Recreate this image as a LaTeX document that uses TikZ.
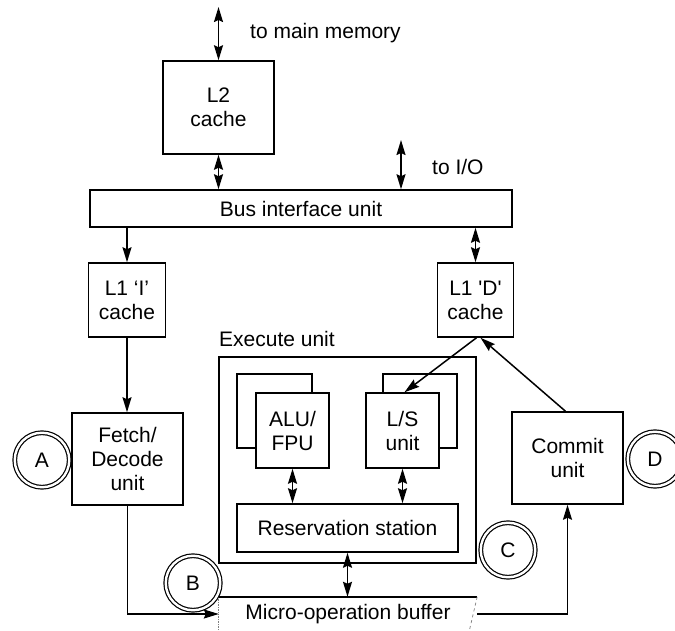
\documentclass[tikz,border=0pt]{standalone}
\usepackage{fontspec}
\setmainfont{Liberation Sans}
\usetikzlibrary{arrows.meta}
\newcommand\diagfont{\fontsize{21}{24}\selectfont}
\tikzset{
  unitbox/.style={draw, line width=1.5pt, fill=white, align=center,
                  inner sep=0pt, font=\diagfont},
  backbox/.style={draw, line width=1.5pt, fill=white, inner sep=0pt},
  label/.style={inner sep=0pt, font=\diagfont},
  tag/.style={circle, draw, line width=1.2pt, double=white,
              double distance=2.4pt, minimum size=54.5pt, inner sep=0pt,
              font=\diagfont},
  arr/.style={line width=1.5pt, -{Stealth[length=15pt,width=9pt,inset=2pt]}},
  darr/.style={line width=1.5pt,
               {Stealth[length=15pt,width=9pt,inset=2pt]}-{Stealth[length=15pt,width=9pt,inset=2pt]}},
}
\begin{document}
\begin{tikzpicture}[x=1pt,y=-1pt]
\clip (0,0) rectangle (675,631);
\fill[white] (0,0) rectangle (675,631);

% memory side
\node[unitbox, minimum width=111pt, minimum height=93pt] (l2) at (218.5,107.5) {L2\\cache};
\node[unitbox, minimum width=422pt, minimum height=37pt] (bus) at (301,208.5) {Bus interface unit};
\node[unitbox, minimum width=77pt, minimum height=74pt] (l1i) at (127,300) {L1 ‘I’\\cache};
\node[unitbox, minimum width=76pt, minimum height=74pt] (l1d) at (475.5,300) {L1 \textquotesingle D\textquotesingle\\cache};

\coordinate (mem) at (218.5,7);
\coordinate (io) at (401,140);
\node[label, anchor=west] (memtxt) at (250,33) {to main memory};
\node[label, anchor=west] (iotxt) at (432,167) {to I/O};

% pipeline units
\node[unitbox, minimum width=111pt, minimum height=92pt] (fetch) at (127.5,459) {Fetch/\\Decode\\unit};
\node[unitbox, minimum width=111pt, minimum height=92pt] (commit) at (567.5,458) {Commit\\unit};

% execute unit
\node[unitbox, minimum width=257pt, minimum height=206pt] (exec) at (347.5,460) {};
\node[label, anchor=west] (extxt) at (219,339) {Execute unit};
\node[backbox, minimum width=75pt, minimum height=74pt] (aluback) at (274.5,411) {};
\node[backbox, minimum width=74pt, minimum height=74pt] (lsback) at (420,411) {};
\node[unitbox, minimum width=73pt, minimum height=75pt] (alu) at (292.5,430.5) {ALU/\\FPU};
\node[unitbox, minimum width=73pt, minimum height=75pt] (ls) at (402.5,430.5) {L/S\\unit};
\node[unitbox, minimum width=221pt, minimum height=48pt] (rs) at (347.5,528) {Reservation station};

% micro-operation buffer, running off the bottom edge
\node[label, minimum width=258pt, minimum height=34pt] (buf) at (348,614) {Micro-operation buffer};
\draw[line width=1.5pt] (buf.north west) -- (buf.north east);
\draw[line width=0.7pt, densely dotted, gray] (buf.north west) -- (buf.south west);
\draw[line width=0.7pt, dashed, gray] (buf.north east) -- ([xshift=-8pt]buf.south east);

% stage tags
\node[tag] (tagA) at (42,460) {A};
\node[tag] (tagB) at (193,583) {B};
\node[tag] (tagC) at (508,550) {C};
\node[tag] (tagD) at (655,459) {D};

% connectors
\draw[darr] (mem) -- (l2.north);
\draw[darr] (l2.south) -- (l2.south |- bus.north);
\draw[darr] (io) -- (io |- bus.north);
\draw[arr] (bus.south -| l1i.north) -- (l1i.north);
\draw[darr] (bus.south -| l1d.north) -- (l1d.north);
\draw[arr] (l1i.south) -- (l1i.south |- fetch.north);
\draw[arr] ([xshift=1pt]l1d.south) -- ([xshift=2pt]ls.north);
\draw[arr] ([xshift=-2pt]commit.north) -- ([xshift=5pt]l1d.south);
\draw[darr] (alu.south) -- (alu.south |- rs.north);
\draw[darr] (ls.south) -- (ls.south |- rs.north);
\draw[darr] (rs.south) -- (rs.south |- buf.north);
\draw[arr] (fetch.south) |- (buf.west);
\draw[arr] (buf.east) -| (commit.south);
\end{tikzpicture}
\end{document}
